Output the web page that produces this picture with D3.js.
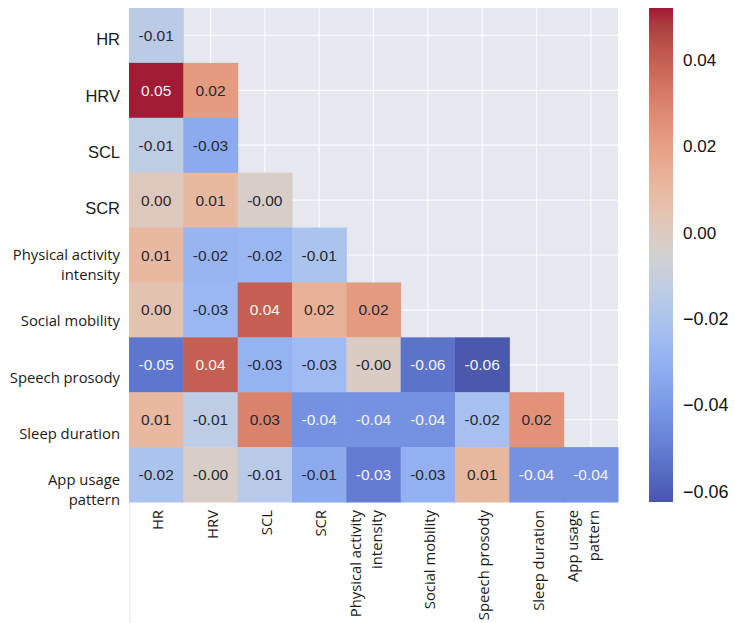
<!DOCTYPE html>
<html>
<head>
<meta charset="utf-8">
<script src="https://cdn.jsdelivr.net/npm/d3@7/dist/d3.min.js"></script>
<style>
  body { margin: 0; background: #fff; }
</style>
</head>
<body>
<svg id="heatmap"></svg>
<script>
// variables, same order on both axes
var rowNames = ["HR", "HRV", "SCL", "SCR", "Physical activity\nintensity", "Social mobility",
                "Speech prosody", "Sleep duration", "App usage\npattern"];
var colNames = rowNames;

// lower triangle, one array per row (shade)
var cellValues = [
  [-0.014],
  [0.052, 0.022],
  [-0.013, -0.033],
  [0.001, 0.010, -0.002],
  [0.010, -0.028, -0.027, -0.020],
  [0.005, -0.027, 0.040, 0.013, 0.022],
  [-0.052, 0.040, -0.029, -0.025, -0.001, -0.053, -0.062],
  [0.010, -0.013, 0.030, -0.043, -0.043, -0.043, -0.022, 0.025],
  [-0.020, -0.002, -0.015, -0.033, -0.050, -0.030, 0.011, -0.043, -0.043]
];
// annotations as printed in the cells
var cellLabels = [
  ["-0.01"],
  ["0.05", "0.02"],
  ["-0.01", "-0.03"],
  ["0.00", "0.01", "-0.00"],
  ["0.01", "-0.02", "-0.02", "-0.01"],
  ["0.00", "-0.03", "0.04", "0.02", "0.02"],
  ["-0.05", "0.04", "-0.03", "-0.03", "-0.00", "-0.06", "-0.06"],
  ["0.01", "-0.01", "0.03", "-0.04", "-0.04", "-0.04", "-0.02", "0.02"],
  ["-0.02", "-0.00", "-0.01", "-0.01", "-0.03", "-0.03", "0.01", "-0.04", "-0.04"]
];
var cbTicks = [0.04, 0.02, 0.00, -0.02, -0.04, -0.06];
var vmin = -0.0624, vmax = 0.0522;

// matplotlib coolwarm
var coolwarm = ["#3b4cc0", "#445acc", "#4d68d7", "#5775e1", "#6282ea", "#6c8ef1", "#779af7", "#82a5fb",
                "#8db0fe", "#98b9ff", "#a3c2ff", "#aec9fd", "#b8d0f9", "#c2d5f4", "#ccd9ee", "#d5dbe6",
                "#dddddd", "#e5d8d1", "#ecd3c5", "#f1ccb8", "#f5c4ac", "#f7bb9f", "#f7b193", "#f7a686",
                "#f49a7b", "#f18d6f", "#ec7f63", "#e57058", "#de604d", "#d55042", "#cb3e38", "#c0282f",
                "#b40426"];
var interp = d3.piecewise(d3.interpolateRgb, coolwarm);
var color = d3.scaleLinear().domain([vmin, vmax]).range([0, 1]).clamp(true);
// the source image is a bit washed out
function fill(v) {
  var c = d3.hsl(interp(color(v)));
  if (!isNaN(c.s)) c.s = c.s * 0.76;
  c.l = c.l * 0.9 + 0.04;
  return c.formatHex();
}

var width = 735, height = 623;
var plot = { left: 129, top: 8, right: 618, bottom: 502 };
var cb = { left: 649, right: 673 };

var svg = d3.select("#heatmap").attr("width", width).attr("height", height);

var x = d3.scaleBand().domain(colNames).range([plot.left, plot.right]);
var y = d3.scaleBand().domain(rowNames).range([plot.top, plot.bottom]);

// faint line below the axes
svg.append("line")
   .attr("x1", plot.left + 1).attr("x2", plot.left + 1)
   .attr("y1", plot.bottom).attr("y2", height)
   .attr("stroke", "#efefef").attr("stroke-width", 1.5);

// darkgrid background
svg.append("rect")
   .attr("x", plot.left).attr("y", plot.top)
   .attr("width", plot.right - plot.left).attr("height", plot.bottom - plot.top)
   .attr("fill", "#e6e8f0");

svg.append("g").selectAll("line.v")
   .data(colNames).enter().append("line")
   .attr("x1", function(d) { return x(d) + x.bandwidth() / 2; })
   .attr("x2", function(d) { return x(d) + x.bandwidth() / 2; })
   .attr("y1", plot.top).attr("y2", plot.bottom)
   .attr("stroke", "#fafbfd").attr("stroke-width", 1.2);
svg.append("g").selectAll("line.h")
   .data(rowNames).enter().append("line")
   .attr("y1", function(d) { return y(d) + y.bandwidth() / 2; })
   .attr("y2", function(d) { return y(d) + y.bandwidth() / 2; })
   .attr("x1", plot.left).attr("x2", plot.right)
   .attr("stroke", "#fafbfd").attr("stroke-width", 1.2);

// cells
var cells = [];
cellValues.forEach(function(row, i) {
  row.forEach(function(v, j) {
    cells.push({ r: rowNames[i], c: colNames[j], v: v, label: cellLabels[i][j] });
  });
});

svg.append("g").selectAll("rect")
   .data(cells).enter().append("rect")
   .attr("x", function(d) { return x(d.c); })
   .attr("y", function(d) { return y(d.r); })
   .attr("width", x.bandwidth() + 0.5)
   .attr("height", y.bandwidth() + 0.5)
   .attr("fill", function(d) { return fill(d.v); });

svg.append("g").selectAll("text")
   .data(cells).enter().append("text")
   .attr("x", function(d) { return x(d.c) + x.bandwidth() / 2; })
   .attr("y", function(d) { return y(d.r) + y.bandwidth() / 2; })
   .attr("text-anchor", "middle")
   .attr("dominant-baseline", "central")
   .style("font-family", "'Liberation Sans', Arial, sans-serif")
   .style("font-size", "15.5px")
   .attr("fill", function(d) { return Math.abs(d.v) > 0.035 ? "#f4f4f4" : "#262a33"; })
   .text(function(d) { return d.label; });

// row labels
var rowLab = svg.append("g").selectAll("text")
   .data(rowNames).enter().append("text")
   .attr("text-anchor", "end")
   .attr("dominant-baseline", "central")
   .attr("fill", "#1a1a1a")
   .style("font-family", function(d) { return d.length <= 3 ? "'Liberation Sans', Arial, sans-serif" : "'Open Sans', sans-serif"; })
   .style("font-size", function(d) { return d.length <= 3 ? "16.5px" : "14.8px"; })
   .attr("transform", function(d, i) {
     return "translate(120," + (y(d) + y.bandwidth() / 2 + 4 + i * 1.3) + ")";
   });
rowLab.each(function(d) {
  var lines = d.split("\n");
  var t = d3.select(this);
  lines.forEach(function(l, k) {
    t.append("tspan").attr("x", 0).attr("y", (k - (lines.length - 1) / 2) * 20).text(l);
  });
});

// column labels
var colLab = svg.append("g").selectAll("text")
   .data(colNames).enter().append("text")
   .attr("text-anchor", "end")
   .attr("dominant-baseline", "central")
   .attr("fill", "#1a1a1a")
   .style("font-family", "'Open Sans', sans-serif")
   .style("font-size", "14.8px")
   .attr("transform", function(d) {
     var shift = d.indexOf("\n") >= 0 ? -8 : 1;
     return "translate(" + (x(d) + x.bandwidth() / 2 + shift) + "," + (plot.bottom + 8) + ") rotate(-90)";
   });
colLab.each(function(d) {
  var lines = d.split("\n");
  var t = d3.select(this);
  lines.forEach(function(l, k) {
    t.append("tspan").attr("x", 0).attr("y", (k - (lines.length - 1) / 2) * 21).text(l);
  });
});

// colorbar
var cbY = d3.scaleLinear().domain([vmin, vmax]).range([plot.bottom, plot.top]);
var grad = svg.append("defs").append("linearGradient")
   .attr("id", "cbgrad").attr("x1", 0).attr("x2", 0).attr("y1", 1).attr("y2", 0);
grad.selectAll("stop")
   .data(d3.range(0, 1.0001, 0.02)).enter().append("stop")
   .attr("offset", function(d) { return d; })
   .attr("stop-color", function(d) { return fill(vmin + d * (vmax - vmin)); });

svg.append("rect")
   .attr("x", cb.left).attr("y", plot.top)
   .attr("width", cb.right - cb.left).attr("height", plot.bottom - plot.top)
   .attr("fill", "url(#cbgrad)");

var fmt = d3.format(".2f");
svg.append("g").selectAll("text")
   .data(cbTicks).enter().append("text")
   .attr("x", cb.right + 10)
   .attr("y", function(d) { return cbY(d); })
   .attr("dominant-baseline", "central")
   .attr("fill", "#111")
   .style("font-family", "'Liberation Sans', Arial, sans-serif")
   .style("font-size", function(d) { return d < 0 ? "18px" : "17px"; })
   .text(function(d) { return fmt(d).replace("-", "\u2212"); });
</script>
</body>
</html>
